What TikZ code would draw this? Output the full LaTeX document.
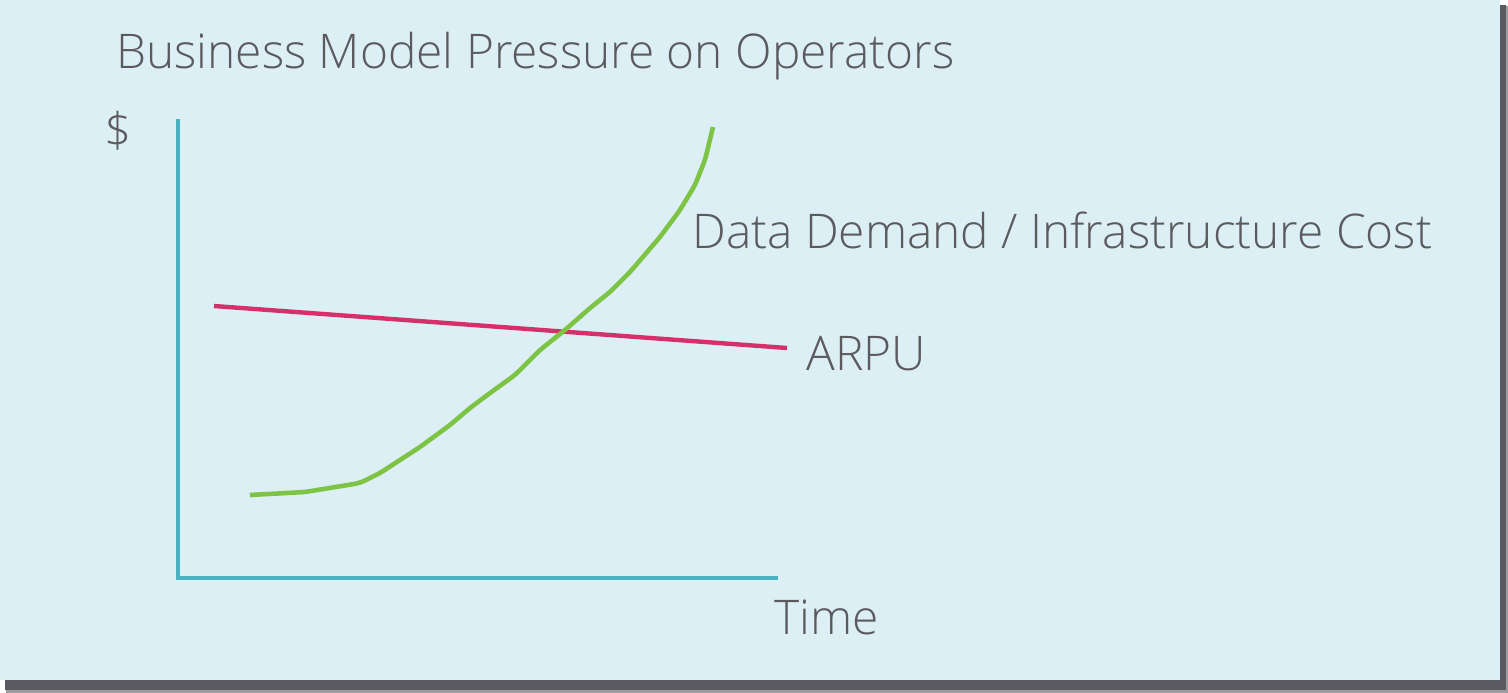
\documentclass[tikz,border=0pt]{standalone}
\usepackage{fontspec}
\setmainfont{Open Sans}[UprightFont={* Light}]
\usepackage{tikz}

\definecolor{panelcol}{HTML}{DCEFF4}
\definecolor{shadowcol}{HTML}{5B5A60}
\definecolor{axiscol}{HTML}{4AB0C2}
\definecolor{arpucol}{HTML}{D72F6A}
\definecolor{costcol}{HTML}{7DC444}
\definecolor{txt}{HTML}{5A5A5F}

\tikzset{
  lbl/.style={text=txt,inner sep=0pt,anchor=base west,font=\fontsize{27.2}{32}\selectfont},
}

\begin{document}
\begin{tikzpicture}[x=0.02cm,y=-0.02cm]
\useasboundingbox (0,0) rectangle (1508,693);
\fill [shadowcol!60] (6,6) rectangle (1508,693);
\fill [shadowcol] (5,5) rectangle (1506,690);
\fill [panelcol] (0,0) rectangle (1500,680);

\node (title) [lbl] at (116,68) {Business Model Pressure on Operators};
\node (dollar) [lbl] at (104,147) {\$};
\node (cost) [lbl] at (692,248) {Data Demand / Infrastructure Cost};
\node (arpu) [lbl] at (806,370) {ARPU};
\node (time) [lbl] at (774,634) {Time};

\coordinate (top) at (178,119);
\coordinate (origin) at (178,578);
\coordinate (right) at (778,578);
\coordinate (a1) at (214,306);
\coordinate (a2) at (787,348);

\draw [axiscol,line width=2.3pt] (top) -- (origin) -- (right);
\draw [arpucol,line width=2.5pt] (a1) -- (a2);
\draw [costcol,line width=2.6pt,rounded corners=3pt]
  (250,495) -- (305,492) -- (360,483) -- (380,473) -- (420,447) -- (450,425)
  -- (470,408) -- (490,393) -- (515,375) -- (540,350) -- (565,330) -- (590,308)
  -- (610,292) -- (630,272) -- (660,237) -- (680,210) -- (695,185) -- (705,160)
  -- (713,127);
\end{tikzpicture}
\end{document}
